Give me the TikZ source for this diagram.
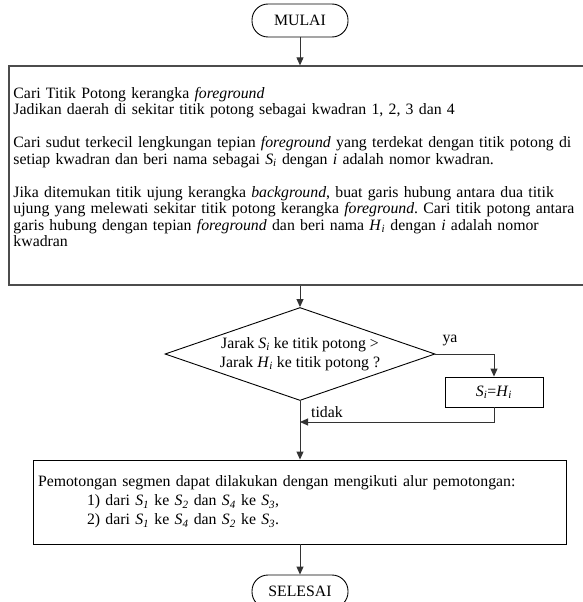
\documentclass[tikz,border=0pt]{standalone}
\usepackage{fontspec}
\setmainfont{Liberation Serif}
\usetikzlibrary{shapes.geometric,arrows.meta}
\newcommand\vsub[2]{\textit{#1}\textsubscript{\textit{#2}}}
\frenchspacing
\begin{document}
\begin{tikzpicture}[x=1pt,y=-1pt,
  font=\fontsize{15.8}{16.5}\selectfont,
  line width=0.9pt,
  term/.style={draw=black,rectangle,rounded corners=16pt,minimum width=96pt,minimum height=33pt,inner sep=0pt},
  bigbox/.style={draw=black!70,line width=1.3pt,rectangle,inner sep=0pt},
  procbox/.style={draw=black,rectangle,inner sep=0pt},
  decbox/.style={draw=black,diamond,aspect=2.9,minimum width=270pt,minimum height=93pt,inner sep=0pt,align=center},
  arr/.style={-{Triangle[length=8pt,width=7pt]},draw=black!80},
  lbl/.style={inner sep=0pt}
]
\useasboundingbox (0,0) rectangle (583,602);
\clip (0,0) rectangle (583,602);

\node[term] (mulai) at (300,20.5) {MULAI};

\node[bigbox,minimum width=582pt,minimum height=219pt] (box1) at (300,175.5) {};
\node[lbl,anchor=north west,text width=575pt,align=left] (box1text) at (13,86.5)
{Cari Titik Potong kerangka \textit{foreground}\\
Jadikan daerah di sekitar titik potong sebagai kwadran 1, 2, 3 dan 4\\[16.5pt]
Cari sudut terkecil lengkungan tepian \textit{foreground} yang terdekat dengan titik potong di\\
setiap kwadran dan beri nama sebagai \vsub{S}{i} dengan \textit{i} adalah nomor kwadran.\\[16.5pt]
Jika ditemukan titik ujung kerangka \textit{background}, buat garis hubung antara dua titik\\
ujung yang melewati sekitar titik potong kerangka \textit{foreground}. Cari titik potong antara\\
garis hubung dengan tepian \textit{foreground} dan beri nama \vsub{H}{i} dengan \textit{i} adalah nomor\\
kwadran};

\node[decbox] (dec) at (300,354)
{Jarak \vsub{S}{i} ke titik potong >\\[2pt] Jarak \vsub{H}{i} ke titik potong ?};

\node[procbox,minimum width=98pt,minimum height=30pt] (si) at (494,392) {\vsub{S}{i}=\vsub{H}{i}};

\coordinate (join) at (300,422);

\node[procbox,minimum width=533pt,minimum height=84pt,text width=524pt,align=left,inner xsep=4.5pt] (box2) at (300,502)
{Pemotongan segmen dapat dilakukan dengan mengikuti alur pemotongan:\\[2.5pt]
\hspace*{49pt}1) dari \vsub{S}{1} ke \vsub{S}{2} dan \vsub{S}{4} ke \vsub{S}{3},\\[2.5pt]
\hspace*{49pt}2) dari \vsub{S}{1} ke \vsub{S}{4} dan \vsub{S}{2} ke \vsub{S}{3}.};

\node[term] (selesai) at (300,591.5) {SELESAI};

\draw[arr] (mulai.south) -- (box1.north);
\draw[arr] (box1.south) -- (dec.north);
\draw[arr] (dec.east) -| (si.north);
\draw[arr] (si.south) |- (join);
\draw[arr] (dec.south) -- (box2.north);
\draw[arr] (box2.south) -- (selesai.north);

\node[lbl] (ya) at (450,340) {ya};
\node[lbl] (tidak) at (327,412.5) {tidak};
\end{tikzpicture}
\end{document}
